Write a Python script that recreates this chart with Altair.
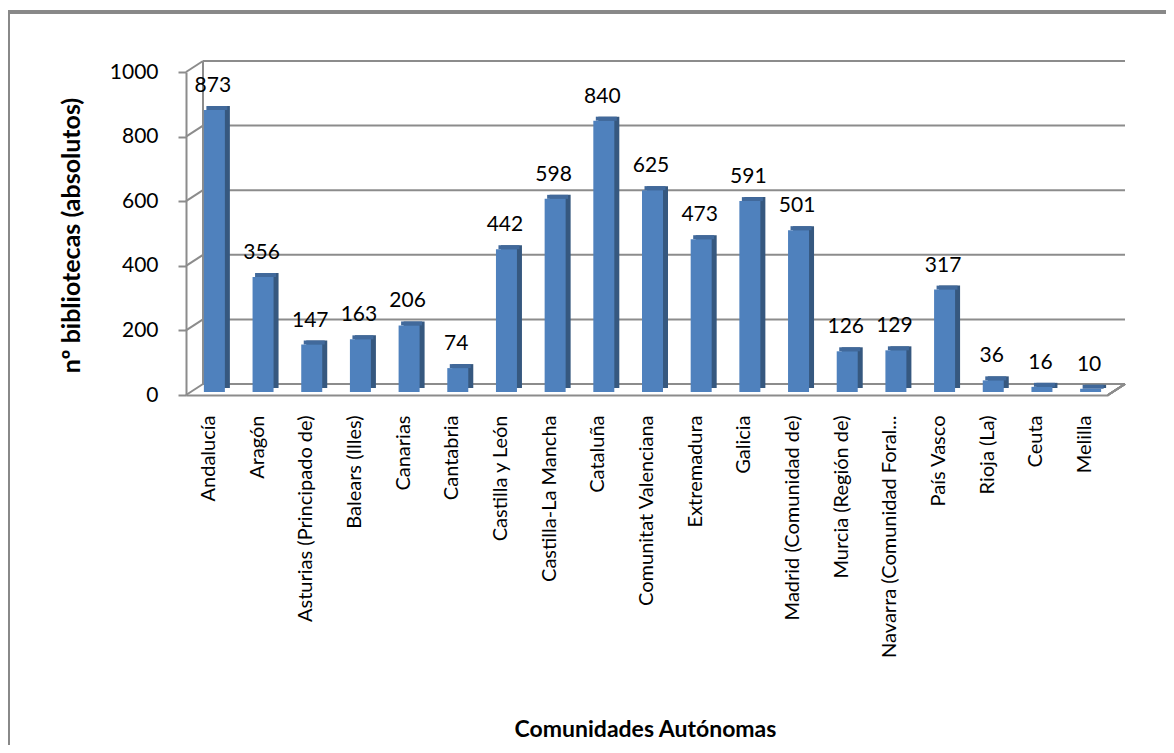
import altair as alt
import pandas as pd

categories = [
    "Andalucía", "Aragón", "Asturias (Principado de)", "Balears (Illes)",
    "Canarias", "Cantabria", "Castilla y León", "Castilla-La Mancha",
    "Cataluña", "Comunitat Valenciana", "Extremadura", "Galicia",
    "Madrid (Comunidad de)", "Murcia (Región de)", "Navarra (Comunidad Foral...",
    "País Vasco", "Rioja (La)", "Ceuta", "Melilla",
]
values = [873, 356, 147, 163, 206, 74, 442, 598, 840, 625, 473, 591, 501,
          126, 129, 317, 36, 16, 10]
y_ticks = [0, 200, 400, 600, 800, 1000]

df = pd.DataFrame({"region": categories, "n": values})
grid_df = pd.DataFrame({"v": y_ticks})

W, H = 922, 323
DX, DY = 17, -11
GRID = "#8c8c8c"
FONT = "Lato"
FRONT = "#4F81BD"
SIDE = "#36587F"
TOP = "#41699B"
Y_TITLE = "nº bibliotecas (absolutos)"

y_scale = alt.Scale(domain=[0, 1000], nice=False)
x_scale = alt.Scale(paddingInner=0.5, paddingOuter=0.22)

x_axis = alt.Axis(
    title="Comunidades Autónomas", labelAngle=270, labelAlign="right",
    labelBaseline="middle", labelPadding=20, ticks=False,
    domainColor=GRID, domainWidth=2, labelFont=FONT, labelFontSize=20,
    labelColor="black", labelLimit=400, titleFont=FONT, titleFontSize=23,
    titleFontWeight="bold", titleColor="black", titleX=459, titleY=334,
    titleBaseline="middle", titleAlign="center",
)
y_axis = alt.Axis(
    values=y_ticks, format="d", title=Y_TITLE, grid=False,
    domainColor=GRID, domainWidth=2, tickColor=GRID, tickWidth=2,
    tickSize=8, labelPadding=20, labelFont=FONT, labelFontSize=21,
    labelColor="black", titleFont=FONT, titleFontSize=25,
    titleFontWeight="bold", titleColor="black", titleX=-115, titleY=163,
    titleAlign="center", titleBaseline="middle", titleAngle=270,
)

X = alt.X("region:N", sort=categories, scale=x_scale, axis=x_axis)
Y = alt.Y("n:Q", scale=y_scale, axis=y_axis)
YV = alt.Y("v:Q", scale=y_scale, axis=y_axis)

base = alt.Chart(df)

# back wall gridlines
grid = alt.Chart(grid_df).mark_rule(color=GRID, strokeWidth=2, yOffset=DY).encode(
    y=YV, x=alt.value(DX), x2=alt.value(W + DX),
)
# diagonal connectors from front axis to back wall
diag = alt.Chart(grid_df).mark_rule(color=GRID, strokeWidth=2, y2Offset=DY).encode(
    y=YV, y2="v:Q", x=alt.value(0), x2=alt.value(DX),
)
back_vert = alt.Chart(grid_df).mark_rule(color=GRID, strokeWidth=2).encode(
    x=alt.value(DX), y=alt.value(DY), y2=alt.value(H + DY),
)
floor_right = alt.Chart(grid_df).mark_rule(color=GRID, strokeWidth=2).encode(
    x=alt.value(W), x2=alt.value(W + DX), y=alt.value(H), y2=alt.value(H + DY),
)
# outer frame (left and top edges)
frame_left = alt.Chart(grid_df).mark_rule(color="#888888", strokeWidth=3).encode(
    x=alt.value(-178), y=alt.value(-60), y2=alt.value(700),
)
frame_top = alt.Chart(grid_df).mark_rule(color="#888888", strokeWidth=3).encode(
    x=alt.value(-179), x2=alt.value(1000), y=alt.value(-60),
)

side = base.mark_bar(width=21, xOffset=10.5, yOffset=-7, y2Offset=-7, color=SIDE).encode(
    x=X, y=Y,
)
top = base.mark_bar(width=21, xOffset=8, yOffset=-7, y2Offset=-3, color=TOP).encode(
    x=X, y=Y, y2="n:Q",
)
front = base.mark_bar(width=21, xOffset=5.5, yOffset=-3, y2Offset=-3, color=FRONT).encode(
    x=X, y=Y,
)
labels = base.mark_text(
    font=FONT, fontSize=21, color="black", baseline="alphabetic", dy=-21, dx=4,
).encode(x=X, y=Y, text="n:Q")

chart = alt.layer(
    frame_left, frame_top, grid, diag, back_vert, floor_right,
    side, top, front, labels,
).properties(
    width=W, height=H,
    autosize=alt.AutoSizeParams(type="none"),
    padding={"left": 178, "top": 64, "right": 58, "bottom": 350},
    background="white",
).configure_view(stroke=None)

chart.save("out.html", embed_options={"renderer": "svg", "actions": False})
